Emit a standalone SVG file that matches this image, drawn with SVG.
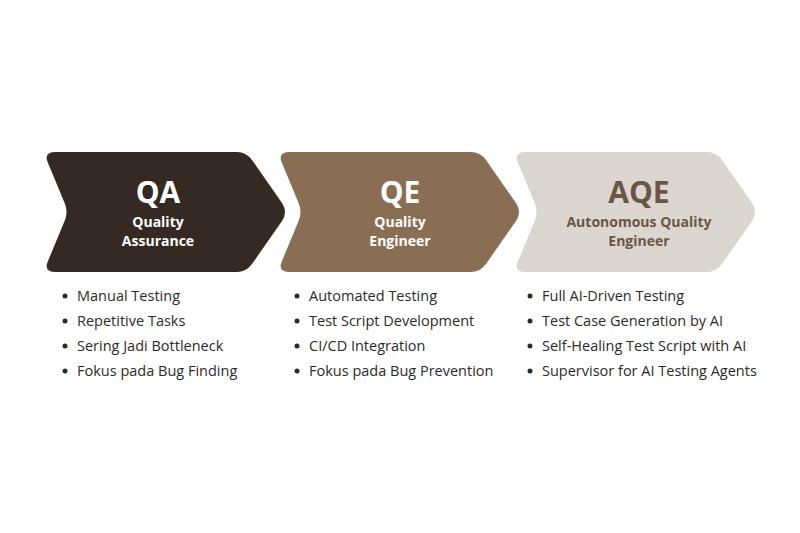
<svg xmlns="http://www.w3.org/2000/svg" width="800" height="533" viewBox="0 0 800 533">
<style>
.t{font-family:"Open Sans","Liberation Sans",sans-serif;font-weight:700;text-anchor:middle}
.big{font-size:30px}
.sub{font-size:14px}
.li{font-family:"Open Sans","Liberation Sans",sans-serif;font-size:14.5px;fill:#2b2b2b}
.b{fill:#2b2b2b}
</style>
<defs>
<path id="chev" d="M 56,152 L 237,152 Q 246,152 252,160 L 282,203 Q 288,212 282,221 L 252,264 Q 246,272 237,272 L 56,272 Q 43,272 48,261 L 65,220 Q 68,212 65,204 L 48,163 Q 43,152 56,152 Z"/>
</defs>
<rect width="800" height="533" fill="#ffffff"/>
<g id="qa">
<use href="#chev" fill="#352a23"/>
<text class="t big" x="158" y="203" fill="#ffffff">QA</text>
<text class="t sub" x="158" y="227" fill="#ffffff">Quality</text>
<text class="t sub" x="158" y="246" fill="#ffffff">Assurance</text>
</g>
<g id="qe">
<use href="#chev" transform="translate(234,0)" fill="#8a6e54"/>
<text class="t big" x="400" y="203" fill="#ffffff">QE</text>
<text class="t sub" x="400" y="227" fill="#ffffff">Quality</text>
<text class="t sub" x="400" y="246" fill="#ffffff">Engineer</text>
</g>
<g id="aqe">
<use href="#chev" transform="translate(470,0)" fill="#dcd6d0"/>
<text class="t big" x="639" y="203" fill="#6b5645">AQE</text>
<text class="t sub" x="639" y="227" fill="#6b5645">Autonomous Quality</text>
<text class="t sub" x="639" y="246" fill="#6b5645">Engineer</text>
</g>
<g id="list-qa">
<circle class="b" cx="65" cy="296" r="2.5"/><text class="li" x="77" y="301">Manual Testing</text>
<circle class="b" cx="65" cy="321" r="2.5"/><text class="li" x="77" y="326">Repetitive Tasks</text>
<circle class="b" cx="65" cy="346" r="2.5"/><text class="li" x="77" y="351">Sering Jadi Bottleneck</text>
<circle class="b" cx="65" cy="371" r="2.5"/><text class="li" x="77" y="376">Fokus pada Bug Finding</text>
</g>
<g id="list-qe">
<circle class="b" cx="297" cy="296" r="2.5"/><text class="li" x="309" y="301">Automated Testing</text>
<circle class="b" cx="297" cy="321" r="2.5"/><text class="li" x="309" y="326">Test Script Development</text>
<circle class="b" cx="297" cy="346" r="2.5"/><text class="li" x="309" y="351">CI/CD Integration</text>
<circle class="b" cx="297" cy="371" r="2.5"/><text class="li" x="309" y="376">Fokus pada Bug Prevention</text>
</g>
<g id="list-aqe">
<circle class="b" cx="530" cy="296" r="2.5"/><text class="li" x="542" y="301">Full AI-Driven Testing</text>
<circle class="b" cx="530" cy="321" r="2.5"/><text class="li" x="542" y="326">Test Case Generation by AI</text>
<circle class="b" cx="530" cy="346" r="2.5"/><text class="li" x="542" y="351">Self-Healing Test Script with AI</text>
<circle class="b" cx="530" cy="371" r="2.5"/><text class="li" x="542" y="376">Supervisor for AI Testing Agents</text>
</g>
</svg>
